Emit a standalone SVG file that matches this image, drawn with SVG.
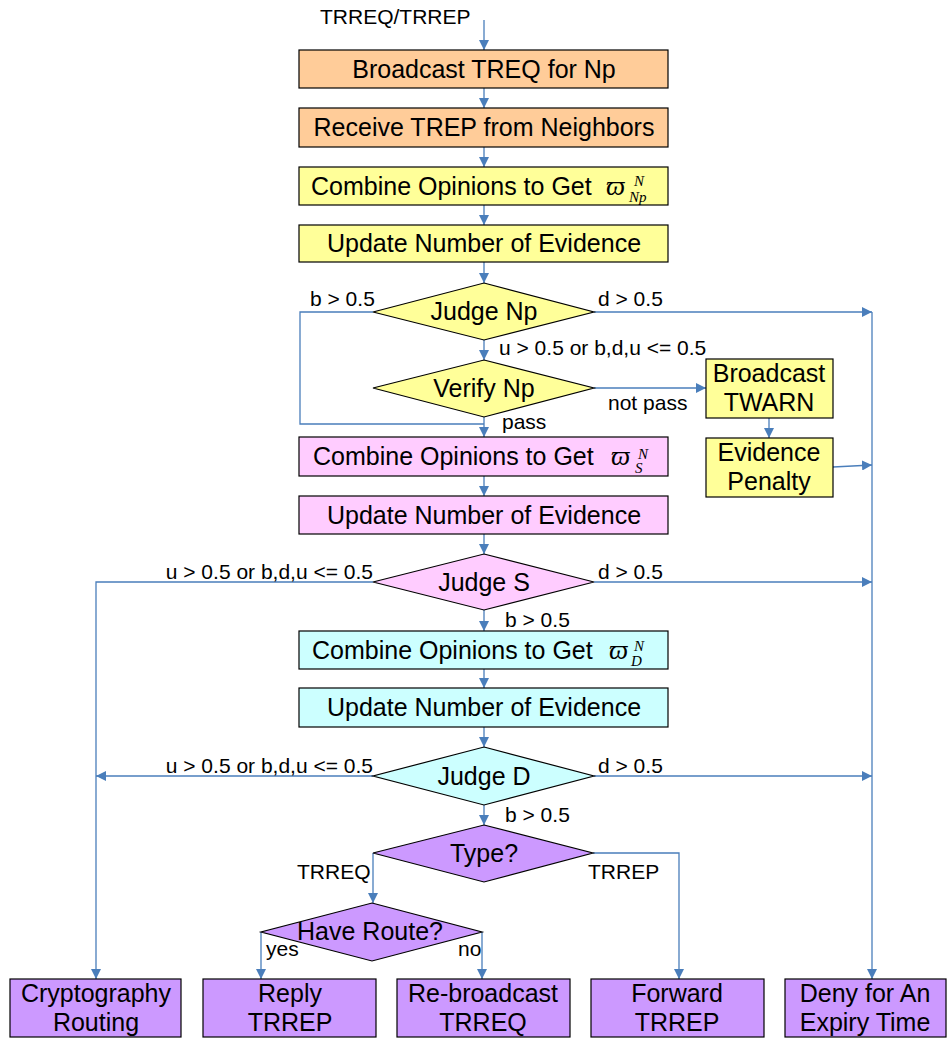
<svg xmlns="http://www.w3.org/2000/svg" width="950" height="1039" viewBox="0 0 950 1039">
<defs>
<marker id="ah" viewBox="0 0 10 10" refX="10" refY="5" markerWidth="10" markerHeight="10" markerUnits="userSpaceOnUse" orient="auto">
<path d="M0,0 L10,5 L0,10 Z" fill="#4A7EBB"/>
</marker>
<style>
.box{stroke:#000;stroke-width:1.2}
.or{fill:#FFCC99}.ye{fill:#FFFF99}.pk{fill:#FFCCFF}.cy{fill:#CCFFFF}.pu{fill:#CC99FF}
.t{font-family:"Liberation Sans",Arial,sans-serif;font-size:25px;fill:#000;text-anchor:middle}
.ts{text-anchor:start}
.l{font-family:"Liberation Sans",Arial,sans-serif;font-size:21px;fill:#000}
.m{font-family:"Liberation Serif","Times New Roman",serif;font-style:italic;fill:#000}
.g{font-size:27px}.s{font-size:15px}
.c{fill:none;stroke:#4A7EBB;stroke-width:1.3}
.a{marker-end:url(#ah)}
</style>
</defs>
<rect width="950" height="1039" fill="#fff"/>
<g id="connectors">
<path class="c a" d="M484,20 V50"/>
<path class="c a" d="M484,88 V108"/>
<path class="c a" d="M484,147 V167"/>
<path class="c a" d="M484,205 V225"/>
<path class="c a" d="M484,262 V283"/>
<path class="c a" d="M484,340 V360"/>
<path class="c a" d="M484,417 V437"/>
<path class="c" d="M373,312 H300 V424 H484"/>
<path class="c a" d="M594,312 H872"/>
<path class="c a" d="M872,312 V979"/>
<path class="c a" d="M594,388 H706"/>
<path class="c a" d="M769,418 V438"/>
<path class="c a" d="M833,467 L872,465"/>
<path class="c a" d="M484,476 V496"/>
<path class="c a" d="M484,534 V554"/>
<path class="c a" d="M373,582 H96 V979"/>
<path class="c a" d="M594,582 H872"/>
<path class="c a" d="M484,610 V631"/>
<path class="c a" d="M484,669 V688"/>
<path class="c a" d="M484,727 V747"/>
<path class="c a" d="M373,776 H96"/>
<path class="c a" d="M594,776 H872"/>
<path class="c a" d="M484,805 V825"/>
<path class="c a" d="M373,853 V903"/>
<path class="c a" d="M593,853 H679 V979"/>
<path class="c a" d="M261,932 V979"/>
<path class="c a" d="M482,932 V979"/>
</g>
<g id="labels">
<text class="l" x="320" y="24">TRREQ/TRREP</text>
<text class="l" x="310" y="306">b &gt; 0.5</text>
<text class="l" x="598" y="306">d &gt; 0.5</text>
<text class="l" x="499" y="355">u &gt; 0.5 or b,d,u &lt;= 0.5</text>
<text class="l" x="608" y="410">not pass</text>
<text class="l" x="502" y="429">pass</text>
<text class="l" x="373" y="579" text-anchor="end">u &gt; 0.5 or b,d,u &lt;= 0.5</text>
<text class="l" x="598" y="579">d &gt; 0.5</text>
<text class="l" x="505" y="627">b &gt; 0.5</text>
<text class="l" x="373" y="773" text-anchor="end">u &gt; 0.5 or b,d,u &lt;= 0.5</text>
<text class="l" x="598" y="773">d &gt; 0.5</text>
<text class="l" x="505" y="822">b &gt; 0.5</text>
<text class="l" x="297" y="879">TRREQ</text>
<text class="l" x="588" y="879">TRREP</text>
<text class="l" x="266" y="956">yes</text>
<text class="l" x="458" y="956">no</text>
</g>
<g id="n1"><rect class="box or" x="299" y="50" width="369" height="38"/><text class="t" x="484" y="78">Broadcast TREQ for Np</text></g>
<g id="n2"><rect class="box or" x="299" y="108" width="369" height="39"/><text class="t" x="484" y="136">Receive TREP from Neighbors</text></g>
<g id="n3"><rect class="box ye" x="299" y="167" width="369" height="38"/><text class="t ts" x="311" y="195">Combine Opinions to Get</text><text class="m g" x="606" y="195">ϖ</text><text class="m s" x="634" y="186">N</text><text class="m s" x="629" y="202">Np</text></g>
<g id="n4"><rect class="box ye" x="299" y="225" width="369" height="37"/><text class="t" x="484" y="252">Update Number of Evidence</text></g>
<g id="n5"><polygon class="box ye" points="484,283 594,312 484,340 373,312"/><text class="t" x="484" y="320">Judge Np</text></g>
<g id="n6"><polygon class="box ye" points="484,360 594,388 484,417 373,388"/><text class="t" x="484" y="397">Verify Np</text></g>
<g id="n7"><rect class="box ye" x="706" y="359" width="127" height="59"/><text class="t" x="769" y="382">Broadcast</text><text class="t" x="769" y="411">TWARN</text></g>
<g id="n8"><rect class="box ye" x="706" y="438" width="127" height="59"/><text class="t" x="769" y="461">Evidence</text><text class="t" x="769" y="490">Penalty</text></g>
<g id="n9"><rect class="box pk" x="299" y="437" width="369" height="39"/><text class="t ts" x="313" y="465">Combine Opinions to Get</text><text class="m g" x="611" y="465">ϖ</text><text class="m s" x="638" y="459">N</text><text class="m s" x="635" y="473">S</text></g>
<g id="n10"><rect class="box pk" x="299" y="496" width="369" height="38"/><text class="t" x="484" y="524">Update Number of Evidence</text></g>
<g id="n11"><polygon class="box pk" points="484,554 594,582 484,610 373,582"/><text class="t" x="484" y="591">Judge S</text></g>
<g id="n12"><rect class="box cy" x="299" y="631" width="369" height="38"/><text class="t ts" x="312" y="659">Combine Opinions to Get</text><text class="m g" x="609" y="659">ϖ</text><text class="m s" x="634" y="651">N</text><text class="m s" x="631" y="666">D</text></g>
<g id="n13"><rect class="box cy" x="299" y="688" width="369" height="39"/><text class="t" x="484" y="716">Update Number of Evidence</text></g>
<g id="n14"><polygon class="box cy" points="484,747 594,776 484,805 373,776"/><text class="t" x="484" y="785">Judge D</text></g>
<g id="n15"><polygon class="box pu" points="484,825 593,853 484,882 373,853"/><text class="t" x="484" y="862">Type?</text></g>
<g id="n16"><polygon class="box pu" points="372,903 482,932 372,961 261,932"/><text class="t" x="370" y="940">Have Route?</text></g>
<g id="n17"><rect class="box pu" x="10" y="979" width="171" height="58"/><text class="t" x="96" y="1002">Cryptography</text><text class="t" x="96" y="1031">Routing</text></g>
<g id="n18"><rect class="box pu" x="203" y="979" width="173" height="58"/><text class="t" x="290" y="1002">Reply</text><text class="t" x="290" y="1031">TRREP</text></g>
<g id="n19"><rect class="box pu" x="397" y="979" width="173" height="58"/><text class="t" x="483" y="1002">Re-broadcast</text><text class="t" x="483" y="1031">TRREQ</text></g>
<g id="n20"><rect class="box pu" x="591" y="979" width="173" height="58"/><text class="t" x="677" y="1002">Forward</text><text class="t" x="677" y="1031">TRREP</text></g>
<g id="n21"><rect class="box pu" x="785" y="979" width="161" height="58"/><text class="t" x="865" y="1002">Deny for An</text><text class="t" x="865" y="1031">Expiry Time</text></g>
</svg>
